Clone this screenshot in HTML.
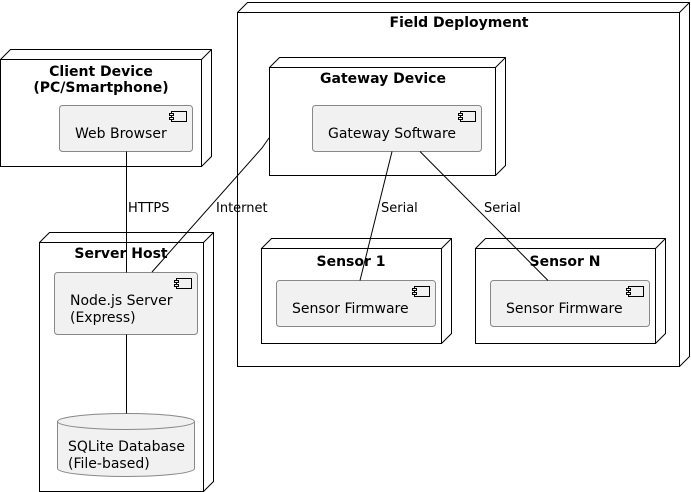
<!DOCTYPE html>
<html><head><meta charset="utf-8"><style>
html,body{margin:0;padding:0;background:#fff}
svg{display:block}
text{font-family:"DejaVu Sans","Liberation Sans",sans-serif;fill:#000}
.t{font-weight:bold;font-size:14px}
.l{font-size:14px}
.c{font-size:13px}
.n{fill:#fff;stroke:#000;stroke-width:1}
.cp{fill:#f1f1f1;stroke:#888;stroke-width:1}
.e{stroke:#000;stroke-width:1;fill:none}
</style></head><body>
<svg width="691" height="492" viewBox="0 0 691 492" xmlns="http://www.w3.org/2000/svg">
<!-- Field Deployment -->
<path class="n" d="M237.5,12.5 L247.5,2.5 L689.5,2.5 L689.5,356.5 L679.5,366.5 Z"/>
<rect class="n" x="237.5" y="12.5" width="442" height="354"/>
<path class="e" d="M679.5,12.5 L689.5,2.5"/>
<text class="t" x="459" y="27" text-anchor="middle">Field Deployment</text>
<!-- Client -->
<path class="n" d="M0.5,59.5 L10.5,49.5 L211.5,49.5 L211.5,156.5 L201.5,166.5 Z"/>
<rect class="n" x="0.5" y="59.5" width="201" height="107"/>
<path class="e" d="M201.5,59.5 L211.5,49.5"/>
<text class="t" x="101" y="76" text-anchor="middle">Client Device</text>
<text class="t" x="101" y="92" text-anchor="middle">(PC/Smartphone)</text>
<rect class="cp" x="59.5" y="105.5" width="133" height="46" rx="3"/>
<g class="e"><rect x="171.5" y="111.5" width="15" height="10" fill="#f1f1f1"/><rect x="169.5" y="113.5" width="4" height="2" fill="#f1f1f1"/><rect x="169.5" y="117.5" width="4" height="2" fill="#f1f1f1"/></g>
<text class="l" x="75" y="138">Web Browser</text>
<!-- Gateway -->
<path class="n" d="M269.5,67.5 L279.5,57.5 L505.5,57.5 L505.5,165.5 L495.5,175.5 Z"/>
<rect class="n" x="269.5" y="67.5" width="226" height="108"/>
<path class="e" d="M495.5,67.5 L505.5,57.5"/>
<text class="t" x="383" y="83" text-anchor="middle">Gateway Device</text>
<rect class="cp" x="312.5" y="105.5" width="169" height="46" rx="3"/>
<g class="e"><rect x="460.5" y="111.5" width="15" height="10" fill="#f1f1f1"/><rect x="458.5" y="113.5" width="4" height="2" fill="#f1f1f1"/><rect x="458.5" y="117.5" width="4" height="2" fill="#f1f1f1"/></g>
<text class="l" x="328" y="138">Gateway Software</text>
<!-- Server Host -->
<path class="n" d="M39.5,242.5 L49.5,232.5 L213.5,232.5 L213.5,481.5 L203.5,491.5 Z"/>
<rect class="n" x="39.5" y="242.5" width="164" height="249"/>
<path class="e" d="M203.5,242.5 L213.5,232.5"/>
<text class="t" x="121" y="258" text-anchor="middle">Server Host</text>
<rect class="cp" x="54.5" y="272.5" width="143" height="62" rx="3"/>
<g class="e"><rect x="176.5" y="278.5" width="15" height="10" fill="#f1f1f1"/><rect x="174.5" y="280.5" width="4" height="2" fill="#f1f1f1"/><rect x="174.5" y="284.5" width="4" height="2" fill="#f1f1f1"/></g>
<text class="l" x="70" y="305">Node.js Server</text>
<text class="l" x="70" y="322">(Express)</text>
<path class="cp" d="M57.5,421.5 A68.5,8 0 0 1 194.5,421.5 L194.5,468.5 A68.5,8 0 0 1 57.5,468.5 Z"/>
<path class="cp" d="M57.5,421.5 A68.5,8 0 0 0 194.5,421.5"/>
<text class="l" x="68" y="451">SQLite Database</text>
<text class="l" x="68" y="468">(File-based)</text>
<!-- Sensor 1 -->
<path class="n" d="M261.5,248.5 L271.5,238.5 L451.5,238.5 L451.5,333.5 L441.5,343.5 Z"/>
<rect class="n" x="261.5" y="248.5" width="180" height="95"/>
<path class="e" d="M441.5,248.5 L451.5,238.5"/>
<text class="t" x="351" y="266" text-anchor="middle">Sensor 1</text>
<rect class="cp" x="276.5" y="280.5" width="159" height="46" rx="3"/>
<g class="e"><rect x="414.5" y="286.5" width="15" height="10" fill="#f1f1f1"/><rect x="412.5" y="288.5" width="4" height="2" fill="#f1f1f1"/><rect x="412.5" y="292.5" width="4" height="2" fill="#f1f1f1"/></g>
<text class="l" x="292" y="313">Sensor Firmware</text>
<!-- Sensor N -->
<path class="n" d="M475.5,248.5 L485.5,238.5 L665.5,238.5 L665.5,333.5 L655.5,343.5 Z"/>
<rect class="n" x="475.5" y="248.5" width="180" height="95"/>
<path class="e" d="M655.5,248.5 L665.5,238.5"/>
<text class="t" x="565" y="266" text-anchor="middle">Sensor N</text>
<rect class="cp" x="490.5" y="280.5" width="159" height="46" rx="3"/>
<g class="e"><rect x="628.5" y="286.5" width="15" height="10" fill="#f1f1f1"/><rect x="626.5" y="288.5" width="4" height="2" fill="#f1f1f1"/><rect x="626.5" y="292.5" width="4" height="2" fill="#f1f1f1"/></g>
<text class="l" x="506" y="313">Sensor Firmware</text>
<!-- edges -->
<path class="e" d="M126.5,151.5 L126.5,272.5"/>
<path class="e" d="M126.5,334.5 L126.5,413.5"/>
<path class="e" d="M269,138 L262,148 L152,272"/>
<path class="e" d="M392,151.5 L360,280.5"/>
<path class="e" d="M420,151.5 L548,280.5"/>
<text class="c" x="128" y="212">HTTPS</text>
<text class="c" x="216" y="212">Internet</text>
<text class="c" x="381" y="212">Serial</text>
<text class="c" x="484" y="212">Serial</text>
</svg>
</body></html>
